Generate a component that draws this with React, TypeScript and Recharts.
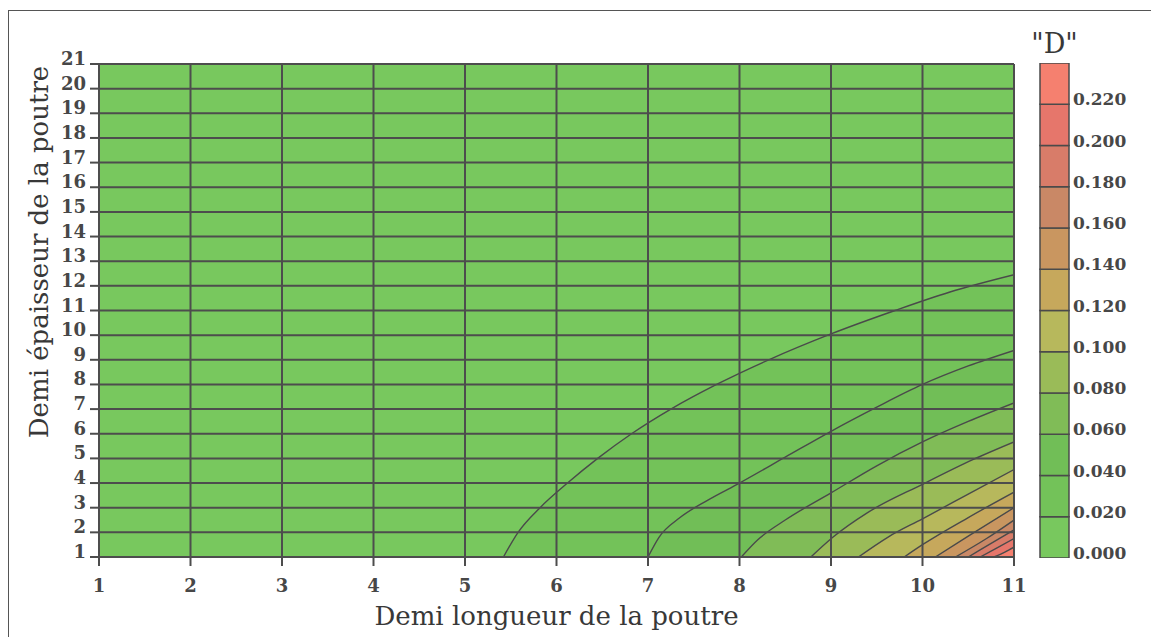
import React from 'react';
import {
  ComposedChart,
  Area,
  XAxis,
  YAxis,
  CartesianGrid,
  ReferenceLine,
  BarChart,
  Bar,
  Label,
} from 'recharts';

// Axis ticks
const xTicks = [1, 2, 3, 4, 5, 6, 7, 8, 9, 10, 11];
const yTicks = [1, 2, 3, 4, 5, 6, 7, 8, 9, 10, 11, 12, 13, 14, 15, 16, 17, 18, 19, 20, 21];

// Levels of "D" (lower edge of each colour band) and the colour of each band
const levels = [0, 0.02, 0.04, 0.06, 0.08, 0.1, 0.12, 0.14, 0.16, 0.18, 0.2, 0.22];
const levelStep = 0.02;
const bandColors = [
  '#78c85e',
  '#73c259',
  '#71be57',
  '#80bc57',
  '#9abb58',
  '#b7b85c',
  '#c6a85c',
  '#c99660',
  '#c98866',
  '#d87c69',
  '#e6766b',
  '#f5806f',
];

// Iso-lines of D, [x, y] along each curve, from D = 0.02 up to D = 0.22
const iso002 = [[5.42, 1], [5.58, 2], [5.82, 3], [6.12, 4], [6.45, 5], [6.82, 6], [7.25, 7], [7.75, 8], [8.32, 9], [9.0, 10.05], [9.7, 11], [10.3, 11.75], [11, 12.45]];
const iso004 = [[7.0, 1], [7.12, 1.8], [7.35, 2.6], [7.65, 3.3], [8.0, 4], [8.5, 5.05], [9.0, 6.1], [9.5, 7.08], [10.0, 8], [10.5, 8.75], [11, 9.38]];
const iso006 = [[8.02, 1], [8.2, 1.7], [8.5, 2.5], [9.0, 3.6], [9.5, 4.7], [10.0, 5.67], [10.5, 6.5], [11, 7.25]];
const iso008 = [[8.78, 1], [9.02, 1.8], [9.4, 2.8], [10.0, 3.95], [10.55, 4.95], [11, 5.67]];
const iso010 = [[9.3, 1], [9.62, 1.8], [10.0, 2.55], [10.5, 3.55], [11, 4.55]];
const iso012 = [[9.8, 1], [10.0, 1.5], [10.5, 2.6], [11, 3.63]];
const iso014 = [[10.14, 1], [10.5, 1.85], [11, 3.0]];
const iso016 = [[10.36, 1], [10.7, 1.75], [11, 2.5]];
const iso018 = [[10.5, 1], [10.75, 1.55], [11, 2.1]];
const iso020 = [[10.63, 1], [10.82, 1.38], [11, 1.75]];
const iso022 = [[10.78, 1], [10.9, 1.2], [11, 1.4]];

const isoLines = [iso002, iso004, iso006, iso008, iso010, iso012, iso014, iso016, iso018, iso020, iso022];
const isoData = isoLines.map((line) => line.map(([x, y]) => ({ x, y })));

// One stacked column for the colour scale
const scaleRow = [
  Object.fromEntries(levels.map((lv, i) => [`band${i}`, levelStep])),
];

const FONT = "'DejaVu Serif', serif";
const INK = '#474747';
const GRID = '#4d4d4d';

const YTick = (props: any) => {
  const { x, y, payload } = props;
  return (
    <text x={x} y={y + 1} textAnchor="end" fontFamily={FONT} fontWeight="bold" fontSize={18} fill={INK}>
      {payload.value}
    </text>
  );
};

const ScaleTick = (props: any) => {
  const { x, y, payload } = props;
  return (
    <text x={x} y={y + 1} textAnchor="start" fontFamily={FONT} fontWeight="bold" fontSize={17} fill={INK}>
      {Number(payload.value).toFixed(3)}
    </text>
  );
};

const XTitle = (props: any) => {
  const vb = props.viewBox;
  return (
    <text x={vb.x + vb.width / 2} y={625} textAnchor="middle" fontFamily={FONT} fontSize={26} fill="#383838">
      Demi longueur de la poutre
    </text>
  );
};

const YTitle = (props: any) => {
  const vb = props.viewBox;
  const cx = vb.x - 6;
  const cy = vb.y + 188;
  return (
    <text x={cx} y={cy} transform={`rotate(-90, ${cx}, ${cy})`} textAnchor="middle" fontFamily={FONT} fontSize={26} fill="#383838">
      Demi épaisseur de la poutre
    </text>
  );
};

const ScaleTitle = (props: any) => {
  const vb = props.viewBox;
  return (
    <text x={vb.x - 14.5} y={53} textAnchor="middle" fontFamily={FONT} fontSize={27} fill="#383838">
      "D"
    </text>
  );
};

export default function App() {
  return (
    <div style={{ position: 'absolute', left: 0, top: 0, width: 1151, height: 637, background: '#fff' }}>
      <div style={{ position: 'absolute', left: 8, top: 10, width: 1143, height: 0, borderTop: '1.5px solid #555' }} />
      <div style={{ position: 'absolute', left: 8, top: 10, width: 0, height: 627, borderLeft: '1.5px solid #555' }} />

      <div style={{ position: 'absolute', left: 0, top: 0 }}>
        <ComposedChart width={1151} height={637} margin={{ top: 64, right: 137, bottom: 40, left: 54 }}>
          <CartesianGrid fill={bandColors[0]} fillOpacity={1} stroke="none" horizontal={false} vertical={false} />
          <XAxis
            dataKey="x"
            type="number"
            domain={[1, 11]}
            ticks={xTicks}
            interval={0}
            height={40}
            tickSize={9}
            tickMargin={13}
            axisLine={{ stroke: GRID, strokeWidth: 2 }}
            tickLine={{ stroke: GRID, strokeWidth: 2 }}
            tick={{ fill: INK, fontSize: 18, fontFamily: FONT, fontWeight: 'bold' }}
            allowDataOverflow
          >
            <Label content={XTitle} />
          </XAxis>
          <YAxis
            type="number"
            domain={[1, 21]}
            ticks={yTicks}
            interval={0}
            width={45}
            tickSize={9}
            tickMargin={4}
            axisLine={{ stroke: GRID, strokeWidth: 2 }}
            tickLine={{ stroke: GRID, strokeWidth: 2 }}
            tick={YTick}
            allowDataOverflow
          >
            <Label content={YTitle} />
          </YAxis>

          {isoData.map((d, i) => (
            <Area
              key={`iso${i}`}
              data={d}
              dataKey="y"
              type="monotone"
              baseValue={1}
              fill={bandColors[i + 1]}
              fillOpacity={1}
              stroke="#4a4a4a"
              strokeWidth={1.4}
              dot={false}
              activeDot={false}
              isAnimationActive={false}
            />
          ))}

          {xTicks.map((v) => (
            <ReferenceLine key={`gx${v}`} x={v} stroke={GRID} strokeWidth={2} />
          ))}
          {yTicks.map((v) => (
            <ReferenceLine key={`gy${v}`} y={v} stroke={GRID} strokeWidth={2} />
          ))}
        </ComposedChart>
      </div>

      <div style={{ position: 'absolute', left: 1016, top: 0 }}>
        <BarChart
          width={123}
          height={637}
          data={scaleRow}
          margin={{ top: 63, right: 0, bottom: 79, left: 24 }}
          barCategoryGap={0}
          barGap={0}
        >
          <XAxis hide />
          <YAxis
            orientation="right"
            type="number"
            domain={[0, 0.24]}
            ticks={levels}
            interval={0}
            width={70}
            tickSize={0}
            tickMargin={4}
            axisLine={false}
            tickLine={false}
            tick={ScaleTick}
            allowDataOverflow
          >
            <Label content={ScaleTitle} />
          </YAxis>
          {levels.map((lv, i) => (
            <Bar
              key={`band${i}`}
              dataKey={`band${i}`}
              stackId="scale"
              fill={bandColors[i]}
              stroke="#4a4a4a"
              strokeWidth={1.5}
              isAnimationActive={false}
            />
          ))}
        </BarChart>
      </div>
    </div>
  );
}
